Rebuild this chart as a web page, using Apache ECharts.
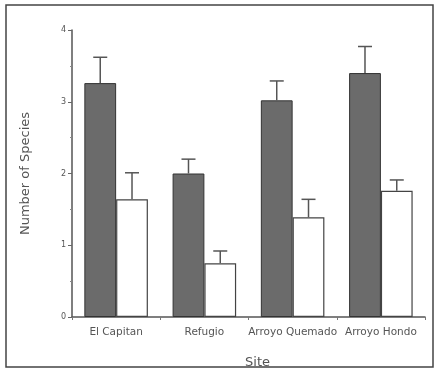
<!DOCTYPE html>
<html><head><meta charset="utf-8">
<script src="https://cdn.jsdelivr.net/npm/echarts@6/dist/echarts.min.js"></script>
<style>html,body{margin:0;padding:0;background:#fff}#c{width:435px;height:377px}</style>
</head><body><div id="c"></div>
<script>
const categories = ['El Capitan', 'Refugio', 'Arroyo Quemado', 'Arroyo Hondo'];
const darkValues = [3.26, 2.0, 3.02, 3.40];
const darkErrTop = [3.62, 2.2, 3.29, 3.77];
const whiteValues = [1.64, 0.75, 1.39, 1.76];
const whiteErrTop = [2.01, 0.92, 1.64, 1.91];
const yTicks = [0, 1, 2, 3, 4];

const BW = 0.36; // bar width as fraction of category
const chart = echarts.init(document.getElementById('c'), null, {renderer: 'canvas'});

function errSeries(vals, tops, side) {
  return {
    type: 'custom',
    z: 5,
    data: categories.map((c, i) => [i, vals[i], tops[i]]),
    renderItem: function (params, api) {
      const band = api.size([1, 0])[0];
      const bw = band * BW;
      const off = side * bw / 2;
      const p0 = api.coord([api.value(0), api.value(1)]);
      const p1 = api.coord([api.value(0), api.value(2)]);
      const x = p0[0] + off;
      const cap = 7;
      return {
        type: 'group',
        children: [
          {type: 'line', shape: {x1: x, y1: p0[1], x2: x, y2: p1[1]}, style: {stroke: '#555', lineWidth: 1.5}},
          {type: 'line', shape: {x1: x - cap, y1: p1[1], x2: x + cap, y2: p1[1]}, style: {stroke: '#555', lineWidth: 1.5}}
        ]
      };
    }
  };
}

chart.setOption({
  animation: false,
  backgroundColor: '#fff',
  textStyle: {fontFamily: 'DejaVu Sans, sans-serif'},
  graphic: [{
    type: 'rect', shape: {x: 6, y: 5, width: 427, height: 362},
    style: {fill: 'none', stroke: '#444', lineWidth: 1.5}, z: -1
  }],
  grid: {left: 72, right: 10, top: 30, bottom: 60},
  xAxis: {
    type: 'category',
    data: categories,
    axisLine: {lineStyle: {color: '#555', width: 1.5}},
    axisTick: {show: true, length: 3, lineStyle: {color: '#777'}},
    axisLabel: {color: '#555', fontSize: 10.5, margin: 10, interval: 0},
    name: 'Site',
    nameLocation: 'middle',
    nameGap: 39,
    nameTextStyle: {color: '#555', fontSize: 13, padding: [0, 0, 0, 18]}
  },
  yAxis: {
    type: 'value',
    min: 0, max: 4, interval: 1,
    axisLine: {show: true, lineStyle: {color: '#555', width: 1.5}},
    axisTick: {show: true, length: 4, lineStyle: {color: '#666'}},
    minorTick: {show: true, splitNumber: 2, length: 2, lineStyle: {color: '#888'}},
    splitLine: {show: false},
    axisLabel: {color: '#555', fontSize: 8, margin: 6, formatter: v => yTicks.includes(v) ? String(v) : ''},
    name: 'Number of Species',
    nameLocation: 'middle',
    nameGap: 40,
    nameTextStyle: {color: '#555', fontSize: 13}
  },
  series: [
    {type: 'bar', data: darkValues, barWidth: (BW * 100) + '%', barGap: '0%',
     itemStyle: {color: '#6b6b6b', borderColor: '#333', borderWidth: 1}},
    {type: 'bar', data: whiteValues, barWidth: (BW * 100) + '%', barGap: '0%',
     itemStyle: {color: '#fff', borderColor: '#444', borderWidth: 1.2}},
    errSeries(darkValues, darkErrTop, -1),
    errSeries(whiteValues, whiteErrTop, 1)
  ]
});
</script></body></html>
